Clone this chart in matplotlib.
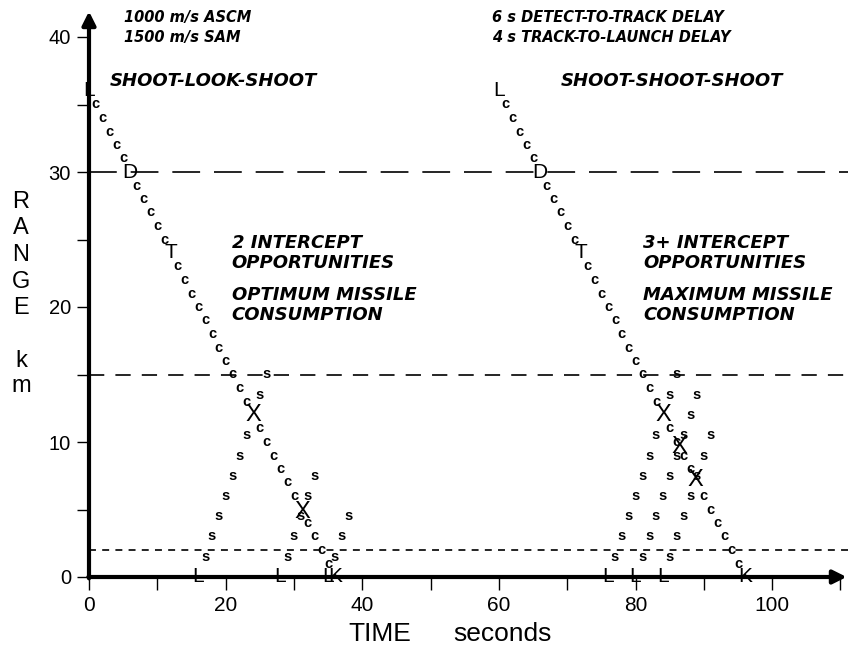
import matplotlib
matplotlib.use("Agg")
import matplotlib.pyplot as plt

plt.rcParams["font.family"] = ["Liberation Sans", "DejaVu Sans"]
plt.rcParams["lines.scale_dashes"] = False

# shoot-look-shoot: cruise missile track ("c"), time s / range km
sls_c_t = [1, 2, 3, 4, 5, 7, 8, 9, 10, 11, 13, 14, 15, 16, 17, 18, 19, 20, 21, 22, 23,
           25, 26, 27, 28, 29, 30, 32, 33, 34, 35]
sls_c_r = [35, 34, 33, 32, 31, 29, 28, 27, 26, 25, 23, 22, 21, 20, 19, 18, 17, 16, 15, 14, 13,
           11, 10, 9, 8, 7, 6, 4, 3, 2, 1]
# shoot-look-shoot: SAM flyouts ("s")
sls_s_t = [17, 18, 19, 20, 21, 22, 23, 25, 26,
           29, 30, 31, 32, 33,
           36, 37, 38]
sls_s_r = [1.5, 3, 4.5, 6, 7.5, 9, 10.5, 13.5, 15,
           1.5, 3, 4.5, 6, 7.5,
           1.5, 3, 4.5]

# shoot-shoot-shoot: cruise missile track
sss_c_t = [61, 62, 63, 64, 65, 67, 68, 69, 70, 71, 73, 74, 75, 76, 77, 78, 79, 80, 81, 82, 83,
           85, 86, 87, 88, 90, 91, 92, 93, 94, 95]
sss_c_r = [35, 34, 33, 32, 31, 29, 28, 27, 26, 25, 23, 22, 21, 20, 19, 18, 17, 16, 15, 14, 13,
           11, 10, 9, 8, 6, 5, 4, 3, 2, 1]
# shoot-shoot-shoot: SAM flyouts
sss_s_t = [77, 78, 79, 80, 81, 82, 83, 85, 86,
           81, 82, 83, 84, 85, 86, 87, 88, 89,
           85, 86, 87, 88, 89, 90, 91]
sss_s_r = [1.5, 3, 4.5, 6, 7.5, 9, 10.5, 13.5, 15,
           1.5, 3, 4.5, 6, 7.5, 9, 10.5, 12, 13.5,
           1.5, 3, 4.5, 6, 7.5, 9, 10.5]

# events: cruise launch (L), detect (D), track (T), SAM launches (L), intercepts (X), kill (K)
ascm_launch_t = [0, 60]
ascm_launch_r = [36, 36]
detect_t = [6, 66]
detect_r = [30, 30]
track_t = [12, 72]
track_r = [24, 24]
sam_launch_t = [16, 28, 35, 76, 80, 84]
intercept_t = [24, 31.2, 84, 86.4, 88.8]
intercept_r = [12, 4.8, 12, 9.6, 7.2]
kill_t = [36, 96]

# range rings
ring_r = [30, 15, 2]
ring_dash = [(20, 10), (11, 8), (5, 4.5)]

fig = plt.figure(figsize=(8.48, 6.47), dpi=100)
ax = fig.add_axes([89 / 848, 70 / 647, 759 / 848, 567 / 647])
xmax, ymax = 111.1, 42.0
ax.set_xlim(0, xmax)
ax.set_ylim(0, ymax)
for sp in ax.spines.values():
    sp.set_visible(False)

for r, dash in zip(ring_r, ring_dash):
    ax.plot([0, xmax], [r, r], color="k", lw=1.2, dashes=dash, clip_on=False)

# axes with arrow heads
arrow = dict(arrowstyle="-|>", lw=3, color="k", mutation_scale=20, shrinkA=0, shrinkB=0)
ax.annotate("", xy=(110.9, 0), xytext=(-0.1, 0), arrowprops=arrow, annotation_clip=False)
ax.annotate("", xy=(0, 41.9), xytext=(0, -0.1), arrowprops=arrow, annotation_clip=False)

ax.set_xticks(range(0, 111, 10))
ax.set_xticklabels([str(v) if v % 20 == 0 and v <= 100 else "" for v in range(0, 111, 10)])
ax.set_yticks(range(0, 41, 5))
ax.set_yticklabels([str(v) if v % 10 == 0 else "" for v in range(0, 41, 5)])
ax.tick_params(axis="x", direction="out", length=9, width=1, labelsize=15, pad=5)
ax.tick_params(axis="y", direction="out", length=9, width=1, labelsize=14.5, pad=4)

small = dict(ha="center", va="center", fontsize=10.5, fontweight="bold")
big = dict(ha="center", va="center", fontsize=15)

for t, r in zip(sls_c_t + sss_c_t, sls_c_r + sss_c_r):
    ax.text(t, r, "c", **small)
for t, r in zip(sls_s_t + sss_s_t, sls_s_r + sss_s_r):
    ax.text(t, r, "s", **small)
for t, r in zip(ascm_launch_t, ascm_launch_r):
    ax.text(t, r, "L", **big)
for t, r in zip(detect_t, detect_r):
    ax.text(t, r, "D", **big)
for t, r in zip(track_t, track_r):
    ax.text(t, r, "T", **big)
for t in sam_launch_t:
    ax.text(t, 0, "L", clip_on=False, **big)
for t in kill_t:
    ax.text(t, 0, "K", clip_on=False, **big)
for t, r in zip(intercept_t, intercept_r):
    ax.text(t, r, "X", ha="center", va="center", fontsize=17)

note = dict(family="DejaVu Sans", fontstyle="italic", fontweight="bold", va="baseline")
ax.text(5.1, 41.1, "1000 m/s ASCM", fontsize=10.5, **note)
ax.text(5.1, 39.6, "1500 m/s SAM", fontsize=10.5, **note)
ax.text(59.0, 41.1, "6 s DETECT-TO-TRACK DELAY", fontsize=10.5, **note)
ax.text(59.0, 39.6, "4 s TRACK-TO-LAUNCH DELAY", fontsize=10.5, **note)
ax.text(3.1, 36.4, "SHOOT-LOOK-SHOOT", fontsize=13, **note)
ax.text(69.0, 36.4, "SHOOT-SHOOT-SHOOT", fontsize=13, **note)

for x0, lines in [(20.9, ["2 INTERCEPT", "OPPORTUNITIES", "OPTIMUM MISSILE", "CONSUMPTION"]),
                  (81.1, ["3+ INTERCEPT", "OPPORTUNITIES", "MAXIMUM MISSILE", "CONSUMPTION"])]:
    for y0, s in zip([24.4, 22.9, 20.5, 19.0], lines):
        ax.text(x0, y0, s, fontsize=13, **note)

# axis titles
for i, ch in enumerate("RANGE"):
    fig.text(21 / 848, 1 - (202 + 26.5 * i) / 647, ch, ha="center", va="center", fontsize=17)
fig.text(21 / 848, 1 - 361 / 647, "k", ha="center", va="center", fontsize=17)
fig.text(21 / 848, 1 - 386 / 647, "m", ha="center", va="center", fontsize=17)
fig.text(348 / 848, 1 - 641 / 647, "TIME", ha="left", va="baseline", fontsize=19)
fig.text(453 / 848, 1 - 641 / 647, "seconds", ha="left", va="baseline", fontsize=19)

fig.savefig("out.png", dpi=100)
